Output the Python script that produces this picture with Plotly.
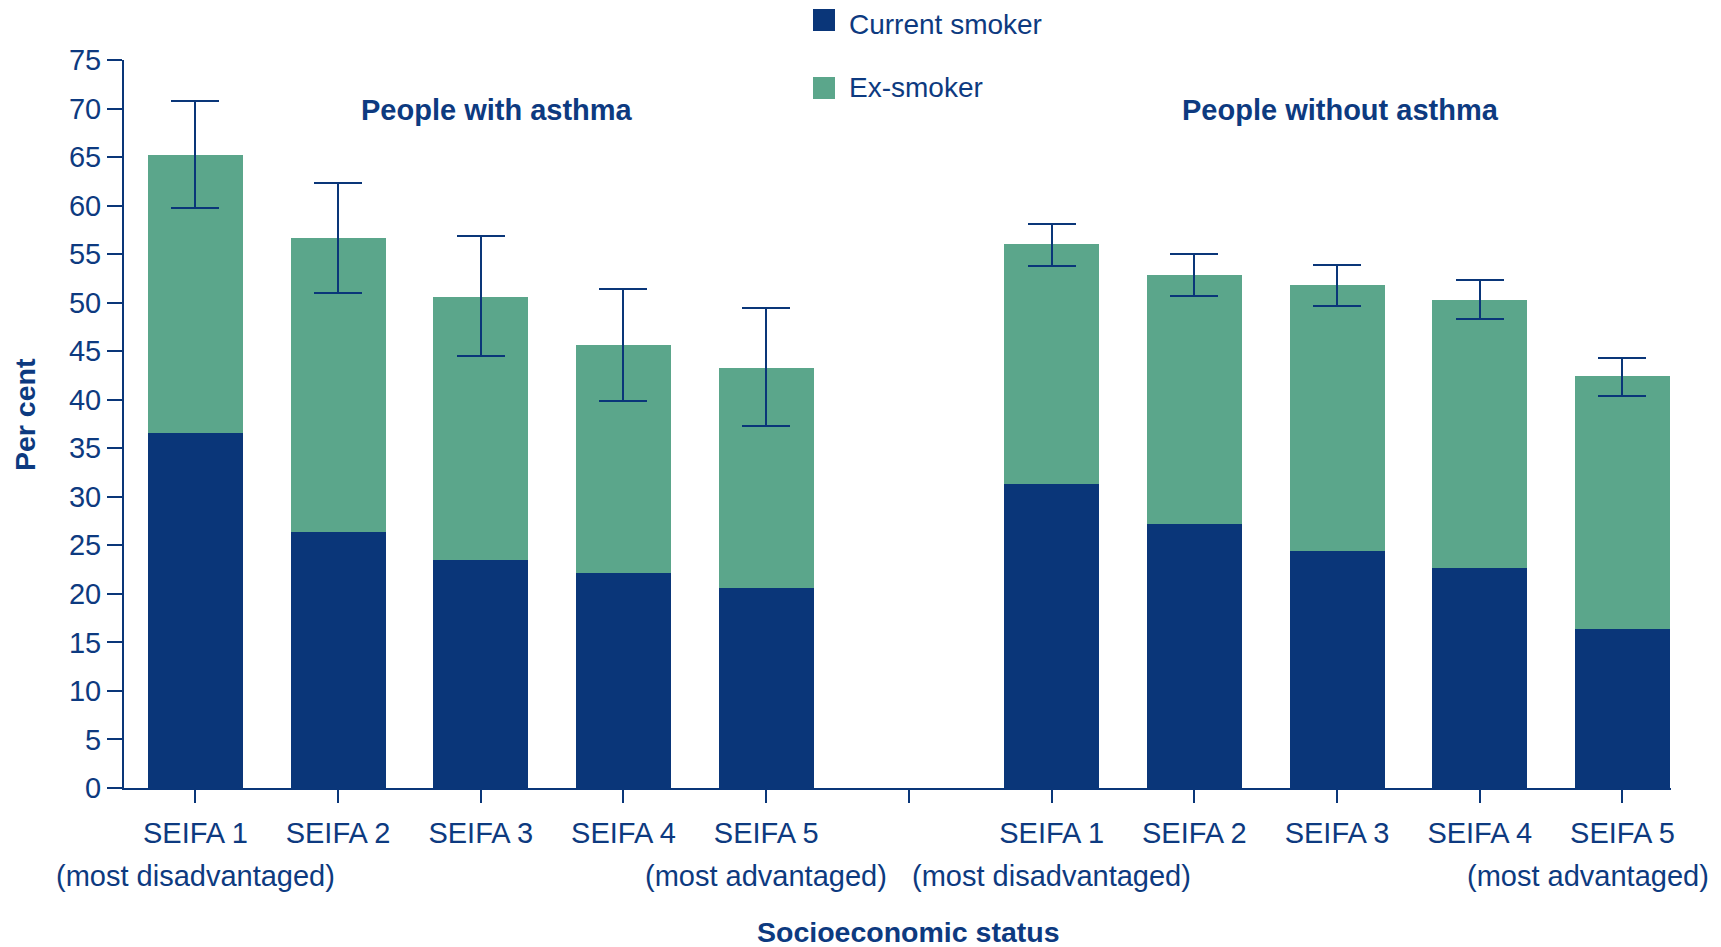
import plotly.graph_objects as go

# ---- data ----
seifa_labels = ["SEIFA 1", "SEIFA 2", "SEIFA 3", "SEIFA 4", "SEIFA 5"]
sub_labels = ["(most disadvantaged)", "", "", "", "(most advantaged)"]
groups = ["People with asthma", "People without asthma"]

asthma_current = [36.6, 26.4, 23.5, 22.2, 20.6]
asthma_ex = [28.6, 30.3, 27.1, 23.4, 22.7]
asthma_ci_low = [59.8, 51.0, 44.5, 39.9, 37.3]
asthma_ci_high = [70.8, 62.3, 56.9, 51.4, 49.4]

noasthma_current = [31.3, 27.2, 24.4, 22.7, 16.4]
noasthma_ex = [24.7, 25.6, 27.4, 27.6, 26.0]
noasthma_ci_low = [53.8, 50.7, 49.7, 48.3, 40.4]
noasthma_ci_high = [58.1, 55.0, 53.9, 52.3, 44.3]

y_ticks = list(range(0, 80, 5))

# ---- styling ----
NAVY = "#0a3679"
GREEN = "#5ba68b"
TEXT = "#0d3a80"
FONT = "Arial, 'Liberation Sans', sans-serif"
FS = 29

# page offset (body margin) compensation
OFF = 8
W, H = 1721, 947
REF_L, REF_R, REF_T, REF_B = 124, 1671, 60, 788   # plot area in reference pixels
FW, FH = W - OFF, H - OFF
ML, MT = REF_L - OFF, REF_T - OFF
MR, MB = FW - (REF_R - OFF), FH - (REF_B - OFF)
PW, PH = REF_R - REF_L, REF_B - REF_T

def px_x(p):
    return (p - REF_L) / PW

def px_y(p):
    return (REF_B - p) / PH

n = len(seifa_labels)
x_with = list(range(n))
x_without = [n + 1 + i for i in range(n)]
x_all = x_with + x_without

current = asthma_current + noasthma_current
ex = asthma_ex + noasthma_ex
ci_low = asthma_ci_low + noasthma_ci_low
ci_high = asthma_ci_high + noasthma_ci_high
totals = [c + e for c, e in zip(current, ex)]
err_plus = [h - t for h, t in zip(ci_high, totals)]
err_minus = [t - l for t, l in zip(totals, ci_low)]

fig = go.Figure()
fig.add_trace(go.Bar(x=x_all, y=current, name="Current smoker",
                     marker=dict(color=NAVY, line=dict(width=0)),
                     showlegend=False))
fig.add_trace(go.Bar(x=x_all, y=ex, name="Ex-smoker",
                     marker=dict(color=GREEN, line=dict(width=0)),
                     error_y=dict(type="data", symmetric=False, array=err_plus,
                                  arrayminus=err_minus, color=NAVY,
                                  thickness=2, width=24),
                     showlegend=False))

tickvals = list(range(2 * n + 1))
ticktext = seifa_labels + [""] + seifa_labels

annotations = []
# second line of tick labels
for gi, xs in enumerate((x_with, x_without)):
    for i, (xv, lab) in enumerate(zip(xs, sub_labels)):
        if lab:
            shift = -34 if (gi == 1 and i == n - 1) else 0
            annotations.append(dict(x=xv, y=0, xref="x", yref="paper", text=lab,
                                    showarrow=False, yshift=-88, xshift=shift,
                                    yanchor="middle",
                                    font=dict(family=FONT, size=FS, color=TEXT)))
# group headings
for txt, cx in zip(groups, (497, 1340)):
    annotations.append(dict(x=px_x(cx), y=px_y(110), xref="paper", yref="paper",
                            text="<b>" + txt + "</b>", showarrow=False,
                            xanchor="center", yanchor="middle",
                            font=dict(family=FONT, size=29, color=TEXT)))
# axis titles
annotations.append(dict(x=px_x(908), y=px_y(932), xref="paper", yref="paper",
                        text="<b>Socioeconomic status</b>", showarrow=False,
                        xanchor="center", yanchor="middle",
                        font=dict(family=FONT, size=28.5, color=TEXT)))
annotations.append(dict(x=px_x(25), y=px_y(415), xref="paper", yref="paper",
                        text="<b>Per cent</b>", showarrow=False, textangle=-90,
                        xanchor="center", yanchor="middle",
                        font=dict(family=FONT, size=28.5, color=TEXT)))
# legend (manual, to match large square swatches)
legend_items = [("Current smoker", NAVY, 20, 25), ("Ex-smoker", GREEN, 88, 88)]
shapes = []
for name, col, cy, ty in legend_items:
    shapes.append(dict(type="rect", xref="paper", yref="paper",
                       x0=px_x(813), x1=px_x(835), y0=px_y(cy - 11), y1=px_y(cy + 11),
                       fillcolor=col, line=dict(width=0)))
    annotations.append(dict(x=px_x(847), y=px_y(ty), xref="paper", yref="paper",
                            text=name, showarrow=False, xanchor="left", yanchor="middle",
                            font=dict(family=FONT, size=28, color=TEXT)))

fig.update_layout(
    width=FW, height=FH,
    margin=dict(l=ML, r=MR, t=MT, b=MB, pad=0),
    barmode="stack", bargap=0.334,
    plot_bgcolor="white", paper_bgcolor="white",
    font=dict(family=FONT, size=FS, color=TEXT),
    annotations=annotations, shapes=shapes,
    xaxis=dict(range=[-0.5, 10.34], tickvals=tickvals, ticktext=ticktext,
               showgrid=False, zeroline=False, showline=True, linecolor=NAVY,
               linewidth=2, ticks="outside", ticklen=13, tickwidth=1.5,
               tickcolor=NAVY, ticklabelstandoff=5,
               tickfont=dict(family=FONT, size=FS, color=TEXT)),
    yaxis=dict(range=[0, 75], tickvals=y_ticks, showgrid=False, zeroline=False,
               showline=True, linecolor=NAVY, linewidth=2, ticks="outside",
               ticklen=15, tickwidth=1.5, tickcolor=NAVY,
               tickfont=dict(family=FONT, size=FS, color=TEXT)),
)

fig.write_html("out.html")
